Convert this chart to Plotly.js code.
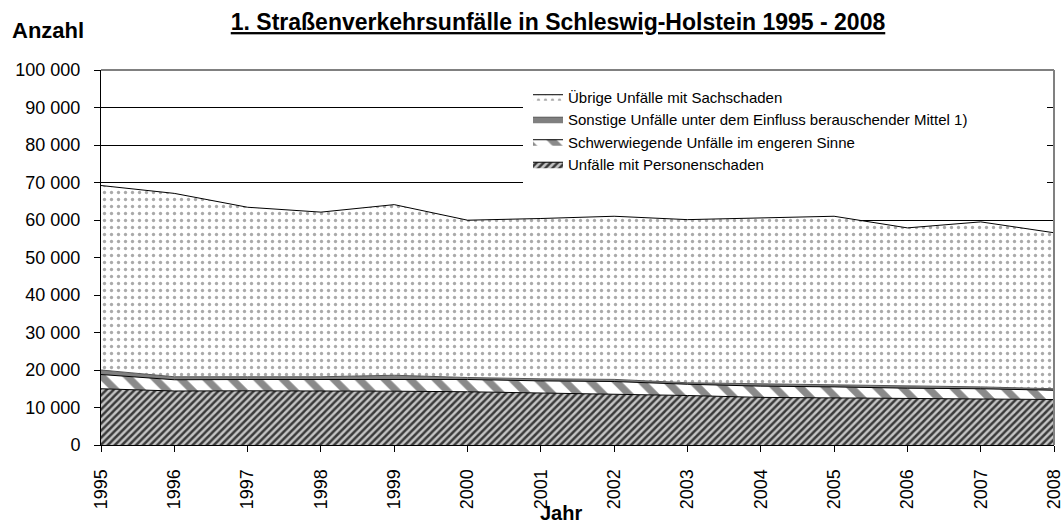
<!DOCTYPE html>
<html>
<head>
<meta charset="utf-8">
<script src="https://cdn.plot.ly/plotly-3.0.1.min.js"></script>
<style>html,body{margin:0;padding:0;background:#fff;}#chart{width:1063px;height:525px;}</style>
</head>
<body>
<div id="chart"></div>
<script>
const years = [1995,1996,1997,1998,1999,2000,2001,2002,2003,2004,2005,2006,2007,2008];
const personenschaden = [15000,14400,14450,14450,14350,14200,13900,13650,13200,12700,12600,12400,12300,12130];
const schwerwiegend   = [3800,3000,3020,3020,3300,3270,3200,3280,3000,3000,2900,2750,2700,2470];
const berauschend     = [1200,800,730,730,950,530,550,570,400,600,630,550,500,400];
const uebrige         = [49200,48900,45200,43900,45500,41950,42750,43500,43500,44300,44870,42200,44000,41600];
const seriesNames = [
  "Unfälle mit Personenschaden",
  "Schwerwiegende Unfälle im engeren Sinne",
  "Sonstige Unfälle unter dem Einfluss berauschender Mittel 1)",
  "Übrige Unfälle mit Sachschaden"
];
const FONT = "Arial, 'Liberation Sans', sans-serif";

const traces = [
  {x: years, y: personenschaden, name: seriesNames[0], stackgroup: 'one', mode: 'lines',
   line: {color: '#000', width: 1},
   fillpattern: {shape: '/', fgcolor: '#3a3a3a', bgcolor: '#c4c4c4', size: 5, solidity: 0.5}},
  {x: years, y: schwerwiegend, name: seriesNames[1], stackgroup: 'one', mode: 'lines',
   line: {color: '#000', width: 1},
   fillpattern: {shape: '\\', fgcolor: '#8a8a8a', bgcolor: '#ffffff', size: 18, solidity: 0.4}},
  {x: years, y: berauschend, name: seriesNames[2], stackgroup: 'one', mode: 'lines',
   line: {color: '#555', width: 1}, fillcolor: '#808080'},
  {x: years, y: uebrige, name: seriesNames[3], stackgroup: 'one', mode: 'lines',
   line: {color: '#000', width: 1},
   fillpattern: {shape: '.', fgcolor: '#aaaaaa', bgcolor: '#ffffff', size: 7, solidity: 0.18}}
];

const layout = {
  width: 1063, height: 525,
  margin: {l: 101, r: 9, t: 69.5, b: 79.5},
  paper_bgcolor: '#fff', plot_bgcolor: '#fff',
  separators: ', ',
  font: {family: FONT, color: '#000', size: 18},
  showlegend: true,
  title: {
    text: '<b>1. Straßenverkehrsunfälle in Schleswig-Holstein 1995 - 2008</b>',
    font: {family: FONT, size: 23, color: '#000', lineposition: 'under'},
    xref: 'container', x: 558/1063, xanchor: 'center',
    yref: 'container', y: 1 - 22/525, yanchor: 'middle'
  },
  xaxis: {
    range: [1995, 2008], tickmode: 'array', tickvals: years, ticktext: years.map(String),
    tickangle: -90, ticks: 'outside', ticklen: 6, tickcolor: '#000',
    showline: true, linecolor: '#000', linewidth: 1, showgrid: false, zeroline: false,
    tickfont: {family: FONT, size: 18, color: '#000'}, ticklabelstandoff: 10,
    ticklabeloverflow: 'allow'
  },
  yaxis: {
    range: [0, 100000], tickmode: 'linear', tick0: 0, dtick: 10000, tickformat: ',d',
    ticks: 'outside', ticklen: 6, tickcolor: '#000',
    showline: true, linecolor: '#000', linewidth: 1,
    showgrid: true, gridcolor: '#000', gridwidth: 1, zeroline: false,
    tickfont: {family: FONT, size: 18, color: '#000'}, ticklabelstandoff: 10
  },
  legend: {
    x: (528-101)/953, xanchor: 'left', y: 1 - (80-69.5)/376, yanchor: 'top',
    traceorder: 'reversed', bgcolor: 'rgba(0,0,0,0)', borderwidth: 0,
    font: {family: FONT, size: 15, color: '#000'}, tracegroupgap: 0, itemwidth: 30
  },
  shapes: [
    {type: 'rect', xref: 'paper', yref: 'paper', layer: 'above',
     x0: (523-101)/953, x1: (1047-101)/953, y0: 1 - (190-69.5)/376, y1: 1 - (88-69.5)/376,
     fillcolor: '#fff', line: {width: 0}},
    {type: 'line', xref: 'paper', yref: 'paper', x0: 0, x1: 1, y0: 1, y1: 1, line: {color: '#808080', width: 2}},
    {type: 'line', xref: 'paper', yref: 'paper', x0: 1, x1: 1, y0: 0, y1: 1, line: {color: '#808080', width: 2}}
  ],
  annotations: [
    {text: '<b>Anzahl</b>', xref: 'paper', yref: 'paper', x: -91/953, xanchor: 'left',
     y: 1 + (69.5-30)/376, yanchor: 'middle', showarrow: false, font: {family: FONT, size: 22, color: '#000'}},
    {text: '<b>Jahr</b>', xref: 'paper', yref: 'paper', x: (561-101)/953, xanchor: 'center',
     y: -(514-445.5)/376, yanchor: 'middle', showarrow: false, font: {family: FONT, size: 20, color: '#000'}}
  ]
};

Plotly.newPlot('chart', traces, layout, {displayModeBar: false, staticPlot: true});
</script>
</body>
</html>
